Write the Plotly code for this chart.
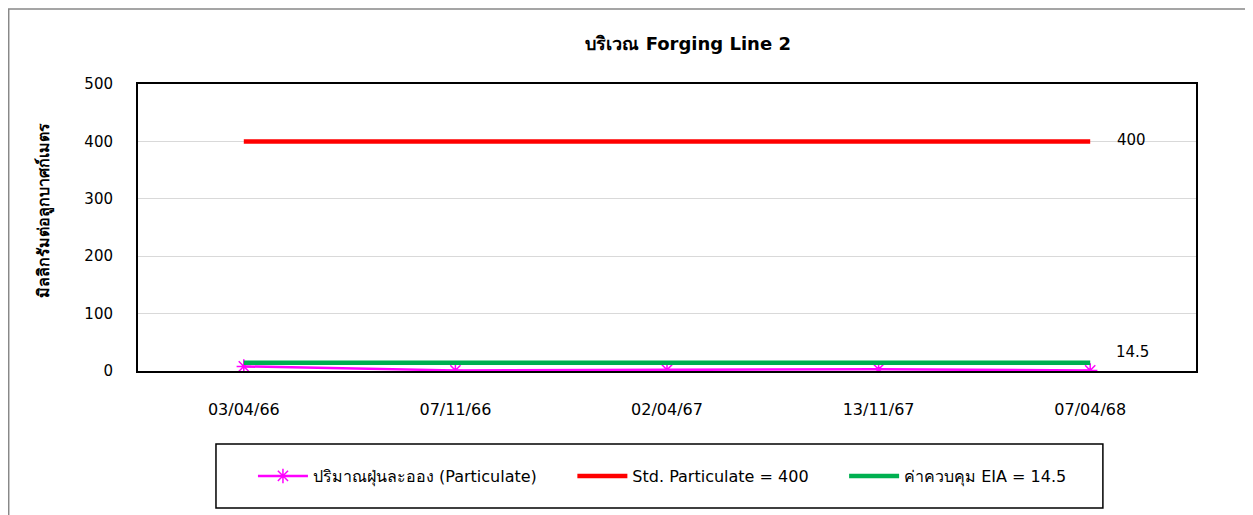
import plotly.graph_objects as go

categories = ["03/04/66", "07/11/66", "02/04/67", "13/11/67", "07/04/68"]
particulate = [8, 1, 2, 3, 1]
std_particulate = [400, 400, 400, 400, 400]
eia_limit = [14.5, 14.5, 14.5, 14.5, 14.5]
series_names = ["ปริมาณฝุ่นละออง (Particulate)", "Std. Particulate = 400", "ค่าควบคุม EIA = 14.5"]

FONT = "'DejaVu Sans', Tahoma, sans-serif"
x = list(range(len(categories)))
PAD = "\u00a0" * 6

fig = go.Figure()
fig.add_trace(go.Scatter(
    x=x, y=particulate, mode="lines+markers", name=series_names[0] + PAD,
    line=dict(color="#FF00FF", width=2.5),
    marker=dict(symbol="asterisk-open", size=12, color="#FF00FF", line=dict(color="#FF00FF", width=1.5)),
))
fig.add_trace(go.Scatter(
    x=x, y=std_particulate, mode="lines", name=series_names[1] + PAD,
    line=dict(color="#FF0000", width=4.5),
))
fig.add_trace(go.Scatter(
    x=x, y=eia_limit, mode="lines", name=series_names[2],
    line=dict(color="#00B050", width=4.5),
))

annotations = [
    dict(x=x[-1], y=std_particulate[-1], text=str(std_particulate[-1]), showarrow=False,
         xanchor="center", yanchor="middle", xshift=41, yshift=1, font=dict(size=15, family=FONT, color="black")),
    dict(x=x[-1], y=eia_limit[-1], text=str(eia_limit[-1]), showarrow=False,
         xanchor="center", yanchor="middle", xshift=42, yshift=11, font=dict(size=15, family=FONT, color="black")),
    dict(xref="paper", yref="paper", x=-0.088, y=0.561, text="<b>มิลลิกรัมต่อลูกบาศก์เมตร</b>",
         textangle=-90, showarrow=False, xanchor="center", yanchor="middle",
         font=dict(size=16, family=FONT, color="black")),
]

fig.update_layout(
    width=1253, height=515,
    margin=dict(l=130, r=65, t=76, b=152, autoexpand=False),
    paper_bgcolor="white", plot_bgcolor="white",
    font=dict(family=FONT, size=15, color="black"),
    title=dict(text="<b>บริเวณ Forging Line 2</b>", x=0.52, xref="paper", xanchor="center",
               y=1 - 36 / 515, yanchor="middle",
               font=dict(size=18, family=FONT, color="black")),
    showlegend=True,
    legend=dict(orientation="h", x=0.4957, xanchor="center", y=-0.366, yanchor="middle",
                borderwidth=0, font=dict(size=16, family=FONT), itemwidth=50,
                bgcolor="rgba(0,0,0,0)"),
    annotations=annotations,
    shapes=[
        dict(type="rect", xref="paper", yref="paper", x0=-0.1222, x1=1.052, y0=-0.7, y1=1.261,
             line=dict(color="#888888", width=1.5), layer="below"),
        dict(type="rect", xref="paper", yref="paper", x0=0.0737, x1=0.912, y0=-0.477, y1=-0.2544,
             line=dict(color="black", width=1.5)),
    ],
)
fig.update_xaxes(
    range=[-0.5, 4.5], tickvals=x, ticktext=categories, showgrid=False,
    showline=True, linecolor="black", linewidth=2, mirror=True, automargin=False,
    tickfont=dict(size=16, family=FONT), ticks="", zeroline=False, ticklabelstandoff=23,
)
fig.update_yaxes(
    range=[0, 500], dtick=100, showgrid=True, gridcolor="#D9D9D9", gridwidth=1,
    showline=True, linecolor="black", linewidth=2, mirror=True, automargin=False,
    tickfont=dict(size=15, family=FONT), zeroline=False, ticks="", ticklabelstandoff=20,
)

fig.write_html("out.html")
